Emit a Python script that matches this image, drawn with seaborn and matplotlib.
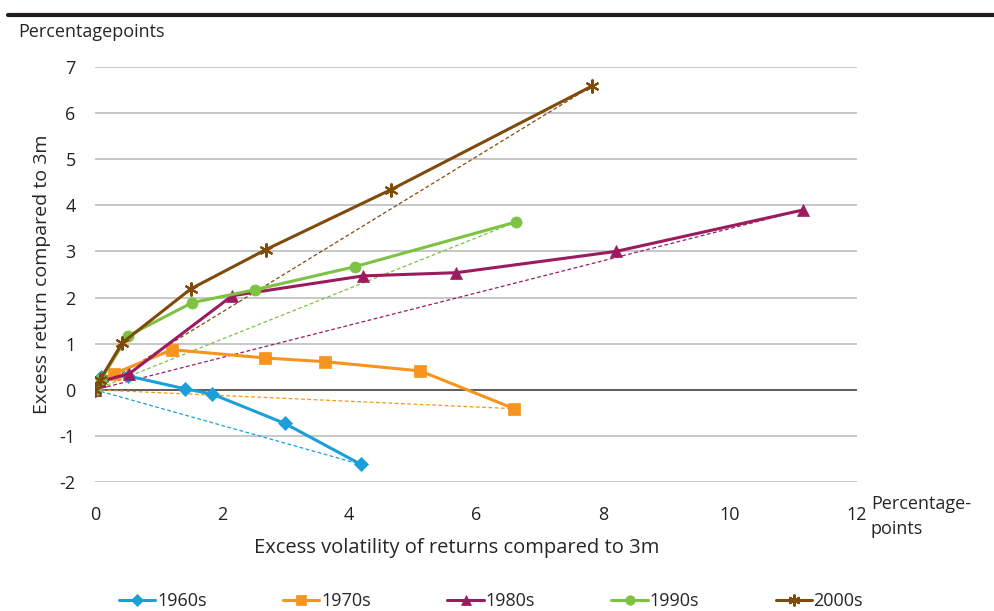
import pandas as pd
import matplotlib
matplotlib.use("Agg")
import matplotlib.pyplot as plt
import seaborn as sns

# data (volatility, return), percentage points
decades = ["1960s", "1970s", "1980s", "1990s", "2000s"]

vol_1960 = [0, 0.10, 0.52, 1.42, 1.84, 2.99, 4.19]
ret_1960 = [0, 0.28, 0.30, 0.02, -0.09, -0.73, -1.62]

vol_1970 = [0, 0.30, 1.21, 2.68, 3.62, 5.12, 6.60]
ret_1970 = [0, 0.35, 0.87, 0.69, 0.61, 0.41, -0.41]

vol_1980 = [0, 0.08, 0.54, 2.16, 4.22, 5.69, 8.20, 11.15]
ret_1980 = [0, 0.18, 0.35, 2.04, 2.47, 2.54, 3.00, 3.90]

vol_1990 = [0, 0.10, 0.52, 1.53, 2.52, 4.09, 6.63]
ret_1990 = [0, 0.24, 1.17, 1.89, 2.17, 2.67, 3.64]

vol_2000 = [0, 0.08, 0.43, 1.51, 2.69, 4.66, 7.83]
ret_2000 = [0, 0.22, 1.02, 2.19, 3.04, 4.34, 6.59]

colors = ["#1a9fdb", "#f7941d", "#9b1b5e", "#7dc242", "#7f4a0a"]
markers = ["D", "s", "^", "o", (6, 2, 0)]
msizes = [7, 8, 8, 8, 10]

vols = [vol_1960, vol_1970, vol_1980, vol_1990, vol_2000]
rets = [ret_1960, ret_1970, ret_1980, ret_1990, ret_2000]

rows = []
for d, v, r in zip(decades, vols, rets):
    for i, (a, b) in enumerate(zip(v, r)):
        rows.append({"decade": d, "step": i, "vol": a, "ret": b})
df = pd.DataFrame(rows)

sns.set_style("white")
plt.rcParams["font.family"] = ["Open Sans", "DejaVu Sans"]
plt.rcParams["axes.unicode_minus"] = False

fig = plt.figure(figsize=(9.94, 6.11), dpi=100)
ax = fig.add_axes([0.0956, 0.2111, 0.7666, 0.6792])

# dashed lines from origin to the last point
for d, c in zip(decades, colors):
    sub = df[df["decade"] == d]
    ends = sub.iloc[[0, -1]]
    sns.lineplot(data=ends, x="vol", y="ret", color=c, lw=0.9, ls=(0, (3, 2)),
                 sort=False, estimator=None, ax=ax, legend=False)

for d, c, m, ms in zip(decades, colors, markers, msizes):
    sub = df[df["decade"] == d]
    mew = 1.5 if d == "2000s" else 0.5
    sns.lineplot(data=sub, x="vol", y="ret", color=c, lw=2.2, marker=m,
                 markersize=ms, markeredgecolor=c, markeredgewidth=mew,
                 sort=False, estimator=None, ax=ax, label=d)

ax.set_xlim(0, 12)
ax.set_ylim(-2, 7)
ax.set_xticks(range(0, 13, 2))
ax.set_yticks(range(-2, 8))
ax.grid(axis="y", color="#bdbdbd", lw=1.2)
ax.axhline(0, color="#555555", lw=1.3, zorder=1)
ax.set_axisbelow(True)
for s in ax.spines.values():
    s.set_visible(False)
ax.tick_params(axis="x", length=0, labelsize=13, pad=17, colors="#222222")
ax.tick_params(axis="y", length=0, labelsize=13, pad=14, colors="#222222")
ax.set_xlabel("Excess volatility of returns compared to 3m", fontsize=14.5)
ax.xaxis.set_label_coords(0.474, -0.135)
ax.set_ylabel("Excess return compared to 3m", fontsize=14, labelpad=6)

ax.text(12.22, -2.75, "Percentage-\npoints", fontsize=13, va="center", ha="left",
        linespacing=1.45)
fig.text(0.018, 0.948, "Percentagepoints", fontsize=13, va="center", ha="left")
fig.add_artist(plt.Line2D([0.008, 1.0], [0.976, 0.976], color="#231f20", lw=3,
                          transform=fig.transFigure))

ax.get_legend().remove()
h, l = ax.get_legend_handles_labels()
fig.legend(h, l, loc="center", bbox_to_anchor=(0.494, 0.016), ncol=5, frameon=False,
           fontsize=13, columnspacing=4.25, handlelength=2.0, handletextpad=0.1,
           markerscale=0.85)

fig.savefig("out.png", dpi=100)
